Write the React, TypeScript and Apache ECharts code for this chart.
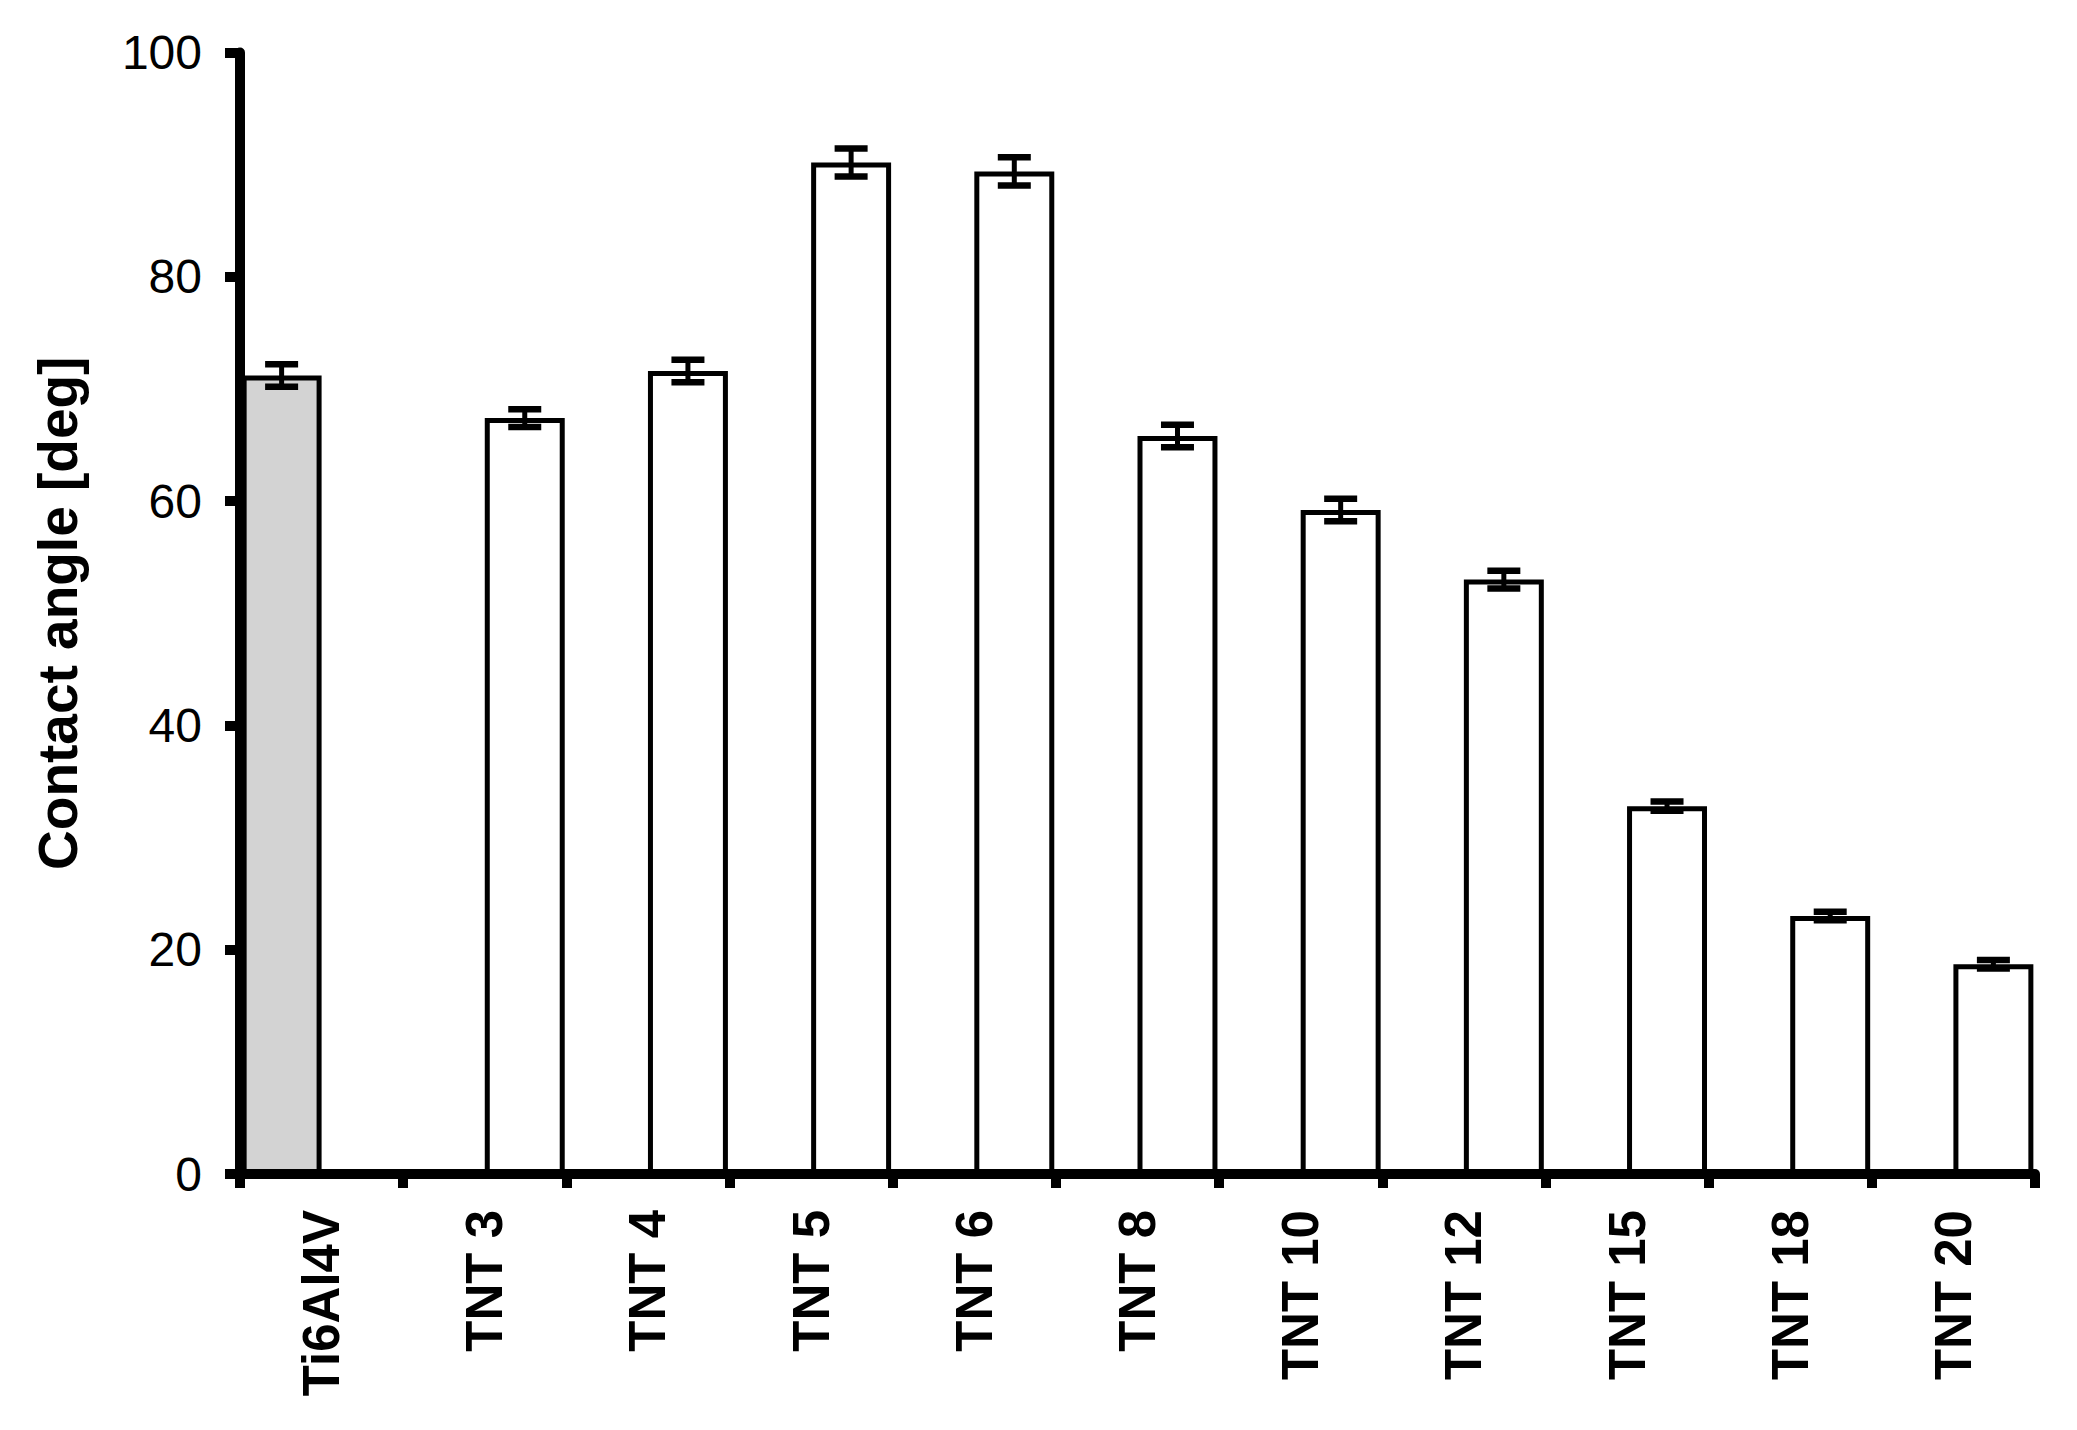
import React, { useEffect, useRef } from "react";
import * as echarts from "echarts";

const categories = ["Ti6Al4V", "TNT 3", "TNT 4", "TNT 5", "TNT 6", "TNT 8", "TNT 10", "TNT 12", "TNT 15", "TNT 18", "TNT 20"];
const substrateValues = [71.2, null, null, null, null, null, null, null, null, null, null];
const substrateErrors = [1.0, null, null, null, null, null, null, null, null, null, null];
const nanotubeValues = [null, 67.4, 71.6, 90.2, 89.4, 65.8, 59.2, 53.0, 32.8, 23.0, 18.7];
const nanotubeErrors = [null, 0.8, 1.0, 1.25, 1.25, 1.0, 1.0, 0.8, 0.42, 0.38, 0.38];
const yTicks = { min: 0, max: 100, interval: 20 };
const yAxisName = "Contact angle [deg]";

const FONT = "'Liberation Sans', Arial, Helvetica, sans-serif";
const CATEGORY_GAP = 0.02;

function errorData(values: (number | null)[], errors: (number | null)[], side: number) {
  const out: any[] = [];
  values.forEach((v, i) => {
    if (v != null && errors[i] != null) out.push([i, v, errors[i], side]);
  });
  return out;
}

export default function App() {
  const ref = useRef<HTMLDivElement>(null);
  useEffect(() => {
    if (!ref.current) return;
    const chart = echarts.init(ref.current, undefined, { renderer: "svg" });
    const errItems = [
      ...errorData(substrateValues, substrateErrors, -1),
      ...errorData(nanotubeValues, nanotubeErrors, 1),
    ];
    chart.setOption({
      animation: false,
      backgroundColor: "#ffffff",
      grid: { left: 240, right: 42, top: 52.5, bottom: 256, containLabel: false },
      xAxis: {
        type: "category",
        data: categories,
        z: 5,
        axisLine: { show: true, lineStyle: { color: "#000", width: 10 } },
        axisTick: { show: true, length: 14, lineStyle: { color: "#000", width: 10 } },
        axisLabel: {
          rotate: 90,
          margin: 36,
          color: "#000",
          fontSize: 51,
          fontWeight: "bold",
          fontFamily: FONT,
          interval: 0,
        },
        splitLine: { show: false },
      },
      yAxis: {
        type: "value",
        min: yTicks.min,
        max: yTicks.max,
        interval: yTicks.interval,
        z: 5,
        name: yAxisName,
        nameLocation: "middle",
        nameGap: 155,
        nameTextStyle: { color: "#000", fontSize: 55, fontWeight: "bold", fontFamily: FONT },
        axisLine: { show: true, lineStyle: { color: "#000", width: 10 } },
        axisTick: { show: true, length: 15, lineStyle: { color: "#000", width: 10 } },
        axisLabel: { margin: 38, color: "#000", fontSize: 48, fontFamily: FONT },
        splitLine: { show: false },
      },
      series: [
        {
          type: "bar",
          data: substrateValues,
          barGap: "0%",
          barCategoryGap: CATEGORY_GAP * 100 + "%",
          itemStyle: { color: "#d3d3d3", borderColor: "#000", borderWidth: 5 },
        },
        {
          type: "bar",
          data: nanotubeValues,
          barGap: "0%",
          barCategoryGap: CATEGORY_GAP * 100 + "%",
          itemStyle: { color: "#ffffff", borderColor: "#000", borderWidth: 5 },
        },
        {
          type: "custom",
          z: 10,
          data: errItems,
          renderItem: (params: any, api: any) => {
            const idx = api.value(0);
            const val = api.value(1);
            const err = api.value(2);
            const side = api.value(3);
            const band = api.size([1, 0])[0];
            const offset = (side * band * (1 - CATEGORY_GAP)) / 4;
            const top = api.coord([idx, val + err]);
            const bot = api.coord([idx, val - err]);
            const x = top[0] + offset;
            const half = 16.5;
            const style = { stroke: "#000", lineWidth: 5 };
            const capStyle = { stroke: "#000", lineWidth: 6.5 };
            return {
              type: "group",
              children: [
                { type: "line", shape: { x1: x, y1: top[1], x2: x, y2: bot[1] }, style },
                { type: "line", shape: { x1: x - half, y1: top[1], x2: x + half, y2: top[1] }, style: capStyle },
                { type: "line", shape: { x1: x - half, y1: bot[1], x2: x + half, y2: bot[1] }, style: capStyle },
              ],
            };
          },
        },
      ],
    });
    return () => chart.dispose();
  }, []);
  return (
    <div
      ref={ref}
      style={{ position: "fixed", left: 0, top: 0, width: 2077, height: 1430, background: "#fff" }}
    />
  );
}
